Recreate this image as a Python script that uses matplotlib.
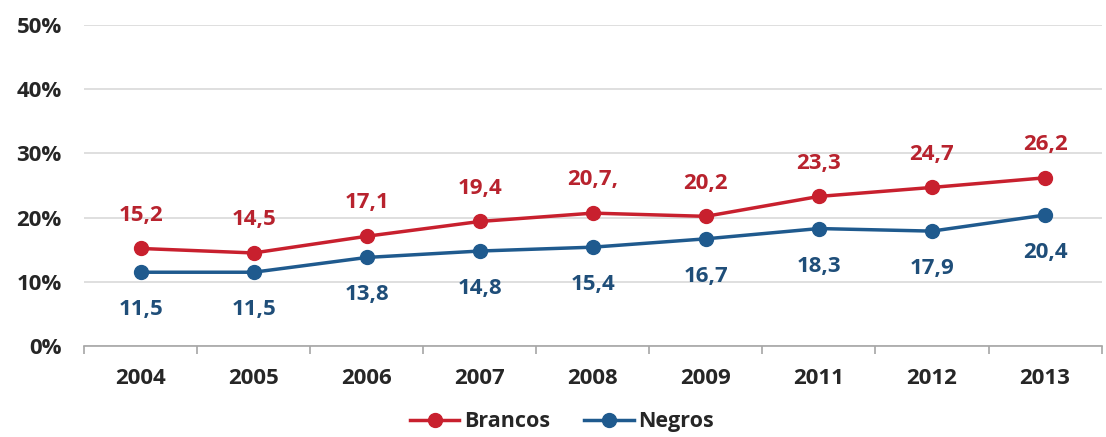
import matplotlib.pyplot as plt
from matplotlib.ticker import FixedLocator

anos = ['2004', '2005', '2006', '2007', '2008', '2009', '2011', '2012', '2013']
brancos = [15.2, 14.5, 17.1, 19.4, 20.7, 20.2, 23.3, 24.7, 26.2]
negros = [11.5, 11.5, 13.8, 14.8, 15.4, 16.7, 18.3, 17.9, 20.4]
rot_brancos = ['15,2', '14,5', '17,1', '19,4', '20,7,', '20,2', '23,3', '24,7', '26,2']
rot_negros = ['11,5', '11,5', '13,8', '14,8', '15,4', '16,7', '18,3', '17,9', '20,4']
y_ticks = [0, 10, 20, 30, 40, 50]

vermelho = '#C8202E'
azul = '#1F5A8E'

plt.rcParams['font.family'] = ['Open Sans', 'DejaVu Sans']

fig = plt.figure(figsize=(11.06, 4.37), dpi=100)
ax = fig.add_axes([0.076, 0.208, 0.92, 0.735])

x = list(range(len(anos)))
ax.plot(x, brancos, color=vermelho, lw=2.5, marker='o', ms=10, label='Brancos', zorder=3)
ax.plot(x, negros, color=azul, lw=2.5, marker='o', ms=10, label='Negros', zorder=3)

for i in x:
    ax.annotate(rot_brancos[i], (i, brancos[i]), xytext=(0, 24), textcoords='offset points',
                ha='center', va='center', color='#B8232E', fontsize=16, fontweight='bold')
    ax.annotate(rot_negros[i], (i, negros[i]), xytext=(0, -27), textcoords='offset points',
                ha='center', va='center', color='#1F4E79', fontsize=16, fontweight='bold')

ax.set_xlim(-0.5, len(anos) - 0.5)
ax.set_ylim(0, 50)
ax.set_yticks(y_ticks)
ax.set_yticklabels([f'{v}%' for v in y_ticks])
ax.set_xticks(x)
ax.set_xticklabels(anos)
ax.xaxis.set_minor_locator(FixedLocator([i - 0.5 for i in range(len(anos) + 1)]))

ax.grid(axis='y', color='#D9D9D9', lw=1.2)
ax.set_axisbelow(True)
for s in ['top', 'right', 'left']:
    ax.spines[s].set_visible(False)
ax.spines['bottom'].set_color('#A6A6A6')
ax.spines['bottom'].set_linewidth(1.2)

ax.tick_params(axis='y', length=0, pad=16, labelsize=16, labelcolor='#262626')
ax.tick_params(axis='x', which='major', length=0, pad=16, labelsize=16, labelcolor='#262626')
ax.tick_params(axis='x', which='minor', length=6, width=1.2, color='#A6A6A6', direction='out')
for t in ax.get_xticklabels() + ax.get_yticklabels():
    t.set_fontweight('bold')

# legenda embaixo, centralizada
fig.legend(loc='center', bbox_to_anchor=(0.508, 0.035), ncol=2, frameon=False,
           prop={'size': 15.5, 'weight': 'bold'}, handlelength=2.3, columnspacing=1.6,
           handletextpad=0.2, labelcolor='#262626')

fig.savefig('out.png', dpi=100, facecolor='white')
